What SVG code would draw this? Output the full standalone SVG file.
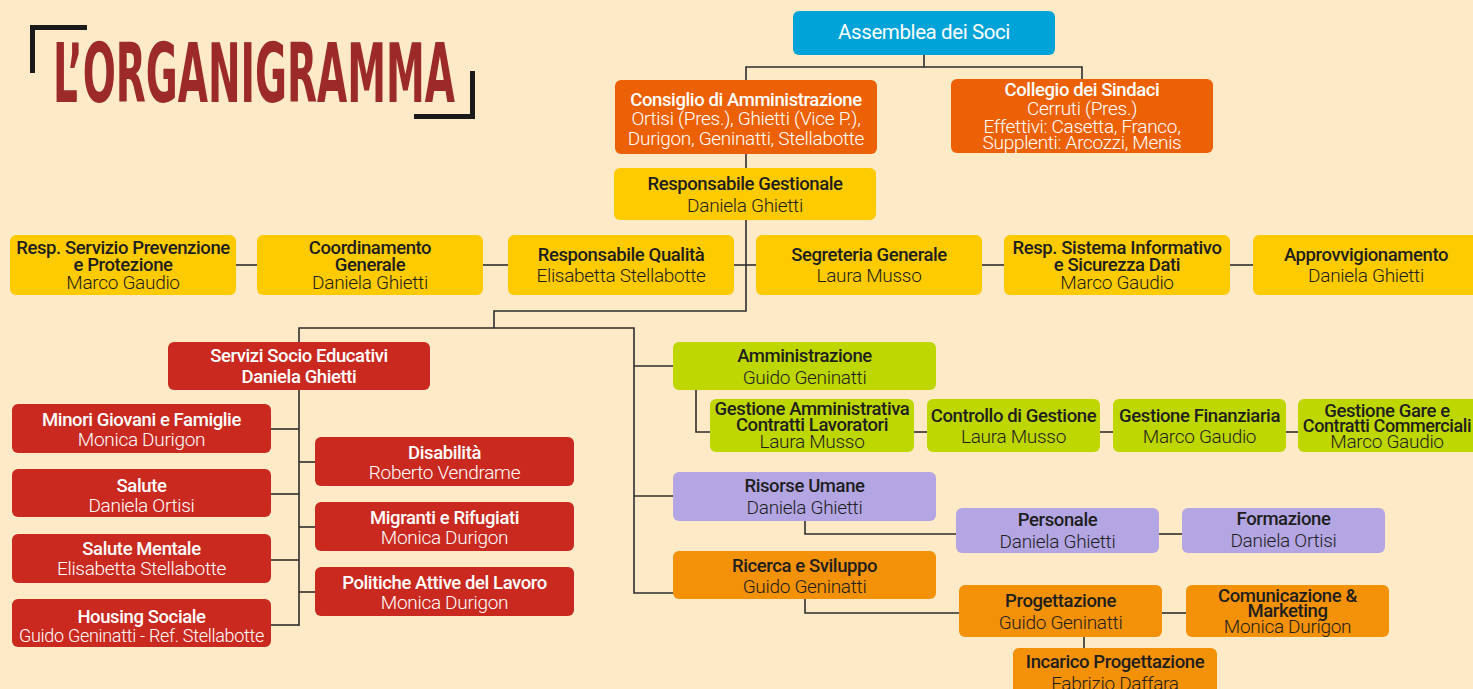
<svg xmlns="http://www.w3.org/2000/svg" width="1473" height="689" viewBox="0 0 1473 689">
<style>
.bg{fill:#FEEAC6}
.box{rx:6;ry:6}
.blue{fill:#00A3D7}
.ored{fill:#EC6105}
.yel{fill:#FECB00}
.red{fill:#C9291F}
.grn{fill:#BFD700}
.lav{fill:#B3A6E3}
.org{fill:#F39109}
text{font-family:Roboto,"Liberation Sans",sans-serif;text-anchor:middle;letter-spacing:-0.4px}
.t{font-weight:500;font-size:18.5px}
.n{font-weight:300;font-size:19px;letter-spacing:-0.3px}
.w{fill:#FFFFFF}
.d{fill:#1E1E1E}
.c line,.c polyline{stroke:#2E2E2E;stroke-width:1.6;fill:none}
.title{font-family:"DejaVu Sans Condensed","DejaVu Sans",sans-serif;font-weight:bold;font-size:82px;fill:#9B2A28;text-anchor:start;letter-spacing:0}
.br{stroke:#1A1A1A;stroke-width:5;fill:none}
</style>
<rect class="bg" x="0" y="0" width="1473" height="689"/>
<g id="title">
<polyline class="br" points="32.5,73 32.5,27.5 87,27.5"/>
<polyline class="br" points="414,116.5 472.5,116.5 472.5,71"/>
<text class="title" x="53" y="102" textLength="402" lengthAdjust="spacingAndGlyphs">L’ORGANIGRAMMA</text>
</g>
<g class="c" id="connectors">
<polyline points="924,55 924,67 746,67 746,80"/>
<polyline points="924,67 1082,67 1082,79"/>
<line x1="746" y1="154" x2="746" y2="168"/>
<polyline points="746,220 746,311 494,311 494,328"/>
<line x1="236" y1="265" x2="257" y2="265"/>
<line x1="483" y1="265" x2="508" y2="265"/>
<line x1="734" y1="265" x2="756" y2="265"/>
<line x1="982" y1="265" x2="1004" y2="265"/>
<line x1="1230" y1="265" x2="1253" y2="265"/>
<polyline points="299,342 299,328 634,328 634,593 673,593"/>
<line x1="634" y1="366" x2="673" y2="366"/>
<line x1="634" y1="496" x2="673" y2="496"/>
<line x1="299" y1="390" x2="299" y2="626"/>
<line x1="271" y1="429" x2="299" y2="429"/>
<line x1="271" y1="494" x2="299" y2="494"/>
<line x1="271" y1="560" x2="299" y2="560"/>
<line x1="271" y1="625" x2="299" y2="625"/>
<line x1="299" y1="462" x2="315" y2="462"/>
<line x1="299" y1="527" x2="315" y2="527"/>
<line x1="299" y1="592" x2="315" y2="592"/>
<polyline points="696,390 696,432 710,432"/>
<line x1="914" y1="432" x2="927" y2="432"/>
<line x1="1100" y1="432" x2="1113" y2="432"/>
<line x1="1286" y1="432" x2="1298" y2="432"/>
<polyline points="805,521 805,534 956,534"/>
<line x1="1159" y1="534" x2="1182" y2="534"/>
<polyline points="805,599 805,613 959,613"/>
<line x1="1162" y1="613" x2="1186" y2="613"/>
<line x1="1084" y1="637" x2="1084" y2="648"/>
</g>
<g id="assemblea"><rect class="box blue" x="793" y="11" width="262" height="44"/><text class="w" x="924" y="39" style="font-size:20.5px;font-weight:400">Assemblea dei Soci</text></g>
<g id="consiglio"><rect class="box ored" x="615" y="80" width="262" height="74"/>
<text class="t w" x="746" y="106">Consiglio di Amministrazione</text>
<text class="n w" x="746" y="125">Ortisi (Pres.), Ghietti (Vice P.),</text>
<text class="n w" x="746" y="145">Durigon, Geninatti, Stellabotte</text></g>
<g id="collegio"><rect class="box ored" x="951" y="79" width="262" height="74"/>
<text class="t w" x="1082" y="96">Collegio dei Sindaci</text>
<text class="n w" x="1082" y="115">Cerruti (Pres.)</text>
<text class="n w" x="1082" y="133">Effettivi: Casetta, Franco,</text>
<text class="n w" x="1082" y="149">Supplenti: Arcozzi, Menis</text></g>
<g id="resp-gestionale"><rect class="box yel" x="614" y="168" width="262" height="52"/>
<text class="t d" x="745" y="190">Responsabile Gestionale</text>
<text class="n d" x="745" y="212">Daniela Ghietti</text></g>
<g id="rspp"><rect class="box yel" x="10" y="235" width="226" height="60"/>
<text class="t d" x="123" y="254">Resp. Servizio Prevenzione</text>
<text class="t d" x="123" y="271">e Protezione</text>
<text class="n d" x="123" y="289">Marco Gaudio</text></g>
<g id="coordinamento"><rect class="box yel" x="257" y="235" width="226" height="60"/>
<text class="t d" x="370" y="254">Coordinamento</text>
<text class="t d" x="370" y="271">Generale</text>
<text class="n d" x="370" y="289">Daniela Ghietti</text></g>
<g id="qualita"><rect class="box yel" x="508" y="235" width="226" height="60"/>
<text class="t d" x="621" y="261">Responsabile Qualità</text>
<text class="n d" x="621" y="282">Elisabetta Stellabotte</text></g>
<g id="segreteria"><rect class="box yel" x="756" y="235" width="226" height="60"/>
<text class="t d" x="869" y="261">Segreteria Generale</text>
<text class="n d" x="869" y="282">Laura Musso</text></g>
<g id="sistema-informativo"><rect class="box yel" x="1004" y="235" width="226" height="60"/>
<text class="t d" x="1117" y="254">Resp. Sistema Informativo</text>
<text class="t d" x="1117" y="271">e Sicurezza Dati</text>
<text class="n d" x="1117" y="289">Marco Gaudio</text></g>
<g id="approvvigionamento"><rect class="box yel" x="1253" y="235" width="230" height="60"/>
<text class="t d" x="1366" y="261">Approvvigionamento</text>
<text class="n d" x="1366" y="282">Daniela Ghietti</text></g>
<g id="servizi"><rect class="box red" x="168" y="342" width="262" height="48"/>
<text class="t w" x="299" y="362">Servizi Socio Educativi</text>
<text class="t w" x="299" y="383">Daniela Ghietti</text></g>
<g id="minori"><rect class="box red" x="12" y="404" width="259" height="49"/>
<text class="t w" x="141.5" y="426">Minori Giovani e Famiglie</text>
<text class="n w" x="141.5" y="446">Monica Durigon</text></g>
<g id="salute"><rect class="box red" x="12" y="469" width="259" height="48"/>
<text class="t w" x="141.5" y="492">Salute</text>
<text class="n w" x="141.5" y="512">Daniela Ortisi</text></g>
<g id="salute-mentale"><rect class="box red" x="12" y="534" width="259" height="49"/>
<text class="t w" x="141.5" y="555">Salute Mentale</text>
<text class="n w" x="141.5" y="575">Elisabetta Stellabotte</text></g>
<g id="housing"><rect class="box red" x="12" y="599" width="259" height="48"/>
<text class="t w" x="141.5" y="623">Housing Sociale</text>
<text class="n w" x="141.5" y="642" style="font-size:18px">Guido Geninatti - Ref. Stellabotte</text></g>
<g id="disabilita"><rect class="box red" x="315" y="437" width="259" height="49"/>
<text class="t w" x="444.5" y="459">Disabilità</text>
<text class="n w" x="444.5" y="479">Roberto Vendrame</text></g>
<g id="migranti"><rect class="box red" x="315" y="502" width="259" height="49"/>
<text class="t w" x="444.5" y="524">Migranti e Rifugiati</text>
<text class="n w" x="444.5" y="544">Monica Durigon</text></g>
<g id="politiche"><rect class="box red" x="315" y="567" width="259" height="49"/>
<text class="t w" x="444.5" y="589">Politiche Attive del Lavoro</text>
<text class="n w" x="444.5" y="609">Monica Durigon</text></g>
<g id="amministrazione"><rect class="box grn" x="673" y="342" width="263" height="48"/>
<text class="t d" x="804.5" y="362">Amministrazione</text>
<text class="n d" x="804.5" y="384">Guido Geninatti</text></g>
<g id="gestione-amministrativa"><rect class="box grn" x="710" y="399" width="204" height="53"/>
<text class="t d" x="812" y="415">Gestione Amministrativa</text>
<text class="t d" x="812" y="431">Contratti Lavoratori</text>
<text class="n d" x="812" y="448">Laura Musso</text></g>
<g id="controllo"><rect class="box grn" x="927" y="399" width="173" height="53"/>
<text class="t d" x="1013.5" y="422">Controllo di Gestione</text>
<text class="n d" x="1013.5" y="443">Laura Musso</text></g>
<g id="finanziaria"><rect class="box grn" x="1113" y="399" width="173" height="53"/>
<text class="t d" x="1199.5" y="422">Gestione Finanziaria</text>
<text class="n d" x="1199.5" y="443">Marco Gaudio</text></g>
<g id="gare"><rect class="box grn" x="1298" y="399" width="182" height="53"/>
<text class="t d" x="1387" y="417">Gestione Gare e</text>
<text class="t d" x="1387" y="432" style="font-size:18px">Contratti Commerciali</text>
<text class="n d" x="1387" y="448">Marco Gaudio</text></g>
<g id="risorse-umane"><rect class="box lav" x="673" y="472" width="263" height="49"/>
<text class="t d" x="804.5" y="492">Risorse Umane</text>
<text class="n d" x="804.5" y="514">Daniela Ghietti</text></g>
<g id="personale"><rect class="box lav" x="956" y="508" width="203" height="45"/>
<text class="t d" x="1057.5" y="526">Personale</text>
<text class="n d" x="1057.5" y="548">Daniela Ghietti</text></g>
<g id="formazione"><rect class="box lav" x="1182" y="508" width="203" height="45"/>
<text class="t d" x="1283.5" y="525">Formazione</text>
<text class="n d" x="1283.5" y="547">Daniela Ortisi</text></g>
<g id="ricerca"><rect class="box org" x="673" y="551" width="263" height="48"/>
<text class="t d" x="804.5" y="572">Ricerca e Sviluppo</text>
<text class="n d" x="804.5" y="593">Guido Geninatti</text></g>
<g id="progettazione"><rect class="box org" x="959" y="585" width="203" height="52"/>
<text class="t d" x="1060.5" y="607">Progettazione</text>
<text class="n d" x="1060.5" y="629">Guido Geninatti</text></g>
<g id="comunicazione"><rect class="box org" x="1186" y="585" width="203" height="52"/>
<text class="t d" x="1287.5" y="602">Comunicazione &amp;</text>
<text class="t d" x="1287.5" y="617">Marketing</text>
<text class="n d" x="1287.5" y="633">Monica Durigon</text></g>
<g id="incarico"><rect class="box org" x="1013" y="648" width="204" height="60"/>
<text class="t d" x="1115" y="668">Incarico Progettazione</text>
<text class="n d" x="1115" y="690">Fabrizio Daffara</text></g>
</svg>
